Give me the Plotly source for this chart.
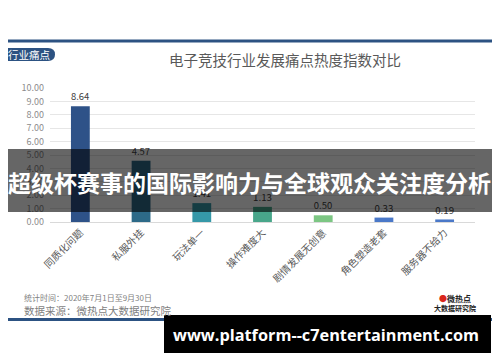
import plotly.graph_objects as go

categories = ["同质化问题", "私服外挂", "玩法单一", "操作难度大", "剧情发展无创意", "角色塑造老套", "服务器不给力"]
values = [8.64, 4.57, 1.41, 1.13, 0.50, 0.33, 0.19]
bar_colors = ["#2e5288", "#2d6a88", "#3598a8", "#48a68a", "#7cc683", "#4a78c8", "#4a78c8"]
y_ticks = [0, 1, 2, 3, 4, 5, 6, 7, 8, 9, 10]

W, H = 500, 362
OFF = 8  # page body margin compensation
FONT = "Noto Sans CJK SC"

def px(x):
    return (x - OFF) / W

def py(y):
    return 1 - (y - OFF) / H

fig = go.Figure()
fig.add_trace(go.Bar(
    x=categories, y=values,
    marker=dict(color=bar_colors, line=dict(width=0)),
    text=[f"{v:.2f}" for v in values], textposition="outside",
    textfont=dict(size=10, color="#404040", family=FONT),
    cliponaxis=False, width=0.31,
))

shapes = [
    # frame
    dict(type="rect", xref="paper", yref="paper", x0=px(1.5), x1=px(495.5), y0=py(319.5), y1=py(41),
         line=dict(color="#2c5282", width=3), fillcolor="rgba(0,0,0,0)", layer="above"),
    # tag pill
    dict(type="path", xref="paper", yref="paper",
         path=f"M {px(0)} {py(48)} L {px(48)} {py(48)} Q {px(55)} {py(48)} {px(55)} {py(54.5)} Q {px(55)} {py(61)} {px(48)} {py(61)} L {px(0)} {py(61)} Z",
         fillcolor="#2c5282", line=dict(width=0), layer="above"),
    # banner
    dict(type="rect", xref="paper", yref="paper", x0=px(8), x1=px(492), y0=py(212), y1=py(149),
         fillcolor="rgba(0,0,0,0.6)", line=dict(width=0), layer="above"),
    # bottom black box
    dict(type="rect", xref="paper", yref="paper", x0=px(164), x1=px(491), y0=py(353), y1=py(315),
         fillcolor="#000000", line=dict(width=0), layer="above"),
]

annotations = [
    dict(text="行业痛点", x=px(29), y=py(54.5), xref="paper", yref="paper", showarrow=False,
         font=dict(size=10.5, color="white", family=FONT), xanchor="center", yanchor="middle"),
    dict(text="电子竞技行业发展痛点热度指数对比", x=px(285), y=py(59), xref="paper", yref="paper",
         showarrow=False, font=dict(size=14.5, color="#595959", family=FONT), xanchor="center", yanchor="middle"),
    dict(text="统计时间：2020年7月1日至9月30日", x=px(22), y=py(297), xref="paper", yref="paper",
         showarrow=False, font=dict(size=8, color="#7f7f7f", family=FONT), xanchor="left", yanchor="middle"),
    dict(text="数据来源：微热点大数据研究院", x=px(22), y=py(310), xref="paper", yref="paper",
         showarrow=False, font=dict(size=10.5, color="#7f7f7f", family=FONT), xanchor="left", yanchor="middle"),
    dict(text="<span style='color:#d9261c'>●</span><b>微热点</b>", x=px(455), y=py(298), xref="paper", yref="paper",
         showarrow=False, font=dict(size=8, color="#222222", family=FONT), xanchor="center", yanchor="middle"),
    dict(text="<b>大数据研究院</b>", x=px(455), y=py(308), xref="paper", yref="paper",
         showarrow=False, font=dict(size=7, color="#222222", family=FONT), xanchor="center", yanchor="middle"),
    dict(text="<b>超级杯赛事的国际影响力与全球观众关注度分析</b>", x=px(249), y=py(182), xref="paper", yref="paper",
         showarrow=False, font=dict(size=23, color="white", family=FONT), xanchor="center", yanchor="middle"),
    dict(text="<b>www.platform--c7entertainment.com</b>", x=px(326), y=py(335), xref="paper", yref="paper",
         showarrow=False, font=dict(size=16.3, color="white", family="Open Sans"), xanchor="center", yanchor="middle"),
]

fig.update_layout(
    width=W, height=H, margin=dict(l=0, r=0, t=0, b=0),
    paper_bgcolor="white", plot_bgcolor="white",
    showlegend=False, shapes=shapes, annotations=annotations,
    xaxis=dict(domain=[px(50), px(475)], tickangle=-45, showgrid=False, automargin=False,
               showline=True, linecolor="#d9d9d9", linewidth=1, ticks="",
               tickfont=dict(size=10, color="#595959", family=FONT)),
    yaxis=dict(domain=[py(222), py(88)], range=[0, 10], tickvals=y_ticks, automargin=False,
               ticktext=[f"{v:.2f}" for v in y_ticks], showgrid=True, gridcolor="#e6e6e6",
               zeroline=False, showline=False, ticks="", ticklabelstandoff=5,
               tickfont=dict(size=9, color="#8c8c8c", family=FONT)),
)

fig.write_html("out.html")
